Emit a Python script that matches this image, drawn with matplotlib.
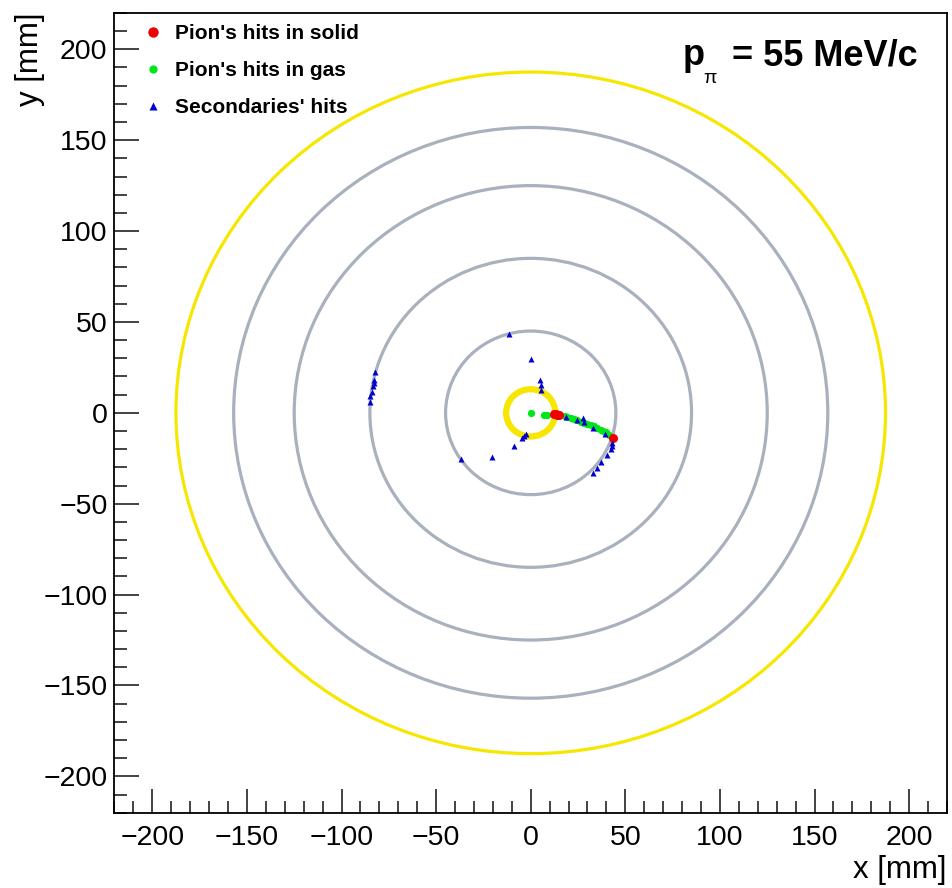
import matplotlib
matplotlib.use("Agg")
import matplotlib.pyplot as plt
from matplotlib.patches import Circle
from matplotlib.ticker import MultipleLocator

plt.rcParams["font.family"] = ["Liberation Sans", "DejaVu Sans"]

# detector layers (radius in mm)
gray_radii = [45, 85, 125, 157]
yellow_radii = [13, 187.5]

# pion hits in solid
solid_x = [12.5, 13.3, 14.1, 14.9, 43.5]
solid_y = [-0.8, -0.9, -1.1, -1.3, -13.6]

# pion hits in gas
gas_x = [0.0, 7.2, 8.4, 18.0, 19.4, 21.2, 22.9, 24.6, 26.4, 28.2, 29.9, 31.6, 33.4, 35.2, 36.9, 38.3, 39.6, 41.3]
gas_y = [0.0, -1.0, -1.1, -2.0, -2.4, -2.9, -3.5, -4.1, -4.8, -5.5, -6.2, -6.9, -7.5, -8.4, -9.4, -10.1, -10.8, -12.1]

# secondaries' hits
sec_x = [-11.4, 0.4, 4.9, 5.2, 5.6, -2.6, -3.5, -4.4, -8.8, -20.7, -36.6,
         18.5, 24.6, 27.8, 28.1, 33.1, 39.2,
         43.1, 43.1, 42.2, 40.1, 36.9, 35.2, 33.1,
         -82.3, -82.7, -83.0, -83.5, -84.0, -84.8, -84.8]
sec_y = [43.5, 29.5, 18.2, 15.5, 12.3, -11.6, -12.7, -13.9, -18.2, -24.4, -25.5,
         -2.4, -4.2, -2.9, -5.3, -8.1, -11.6,
         -16.7, -18.5, -20.0, -23.1, -27.3, -30.4, -33.2,
         22.7, 18.2, 16.3, 14.5, 11.7, 9.0, 6.2]

W, H = 953, 888
fig = plt.figure(figsize=(W / 100, H / 100), dpi=100)
ax = fig.add_axes([0.1201, 0.0848, 0.8736, 0.9006])

for r in gray_radii:
    ax.add_patch(Circle((0, 0), r, fill=False, color="#a9b1bd", lw=2.3, zorder=1))
ax.add_patch(Circle((0, 0), yellow_radii[0], fill=False, color="#f7e700", lw=4.5, zorder=1))
ax.add_patch(Circle((0, 0), yellow_radii[1], fill=False, color="#f7e700", lw=2.3, zorder=1))

ax.plot(gas_x, gas_y, "o", color="#00e61a", ms=5.2, mec="none", zorder=3,
        label="Pion's hits in gas")
ax.plot(solid_x, solid_y, "o", color="#ee0000", ms=6.5, mec="none", zorder=4,
        label="Pion's hits in solid")
ax.plot(sec_x, sec_y, "^", color="#0000cc", ms=4.6, mec="none", zorder=5,
        label="Secondaries' hits")

ax.set_xlim(-220, 220)
ax.set_ylim(-220, 220)
ax.xaxis.set_major_locator(MultipleLocator(50))
ax.xaxis.set_minor_locator(MultipleLocator(10))
ax.yaxis.set_major_locator(MultipleLocator(50))
ax.yaxis.set_minor_locator(MultipleLocator(10))
ax.tick_params(which="both", direction="in", width=1.2, labelsize=20.5, color="#222222")
ax.tick_params(axis="x", which="major", length=17, pad=9)
ax.tick_params(axis="x", which="minor", length=8.5)
ax.tick_params(axis="y", which="major", length=18, pad=5)
ax.tick_params(axis="y", which="minor", length=9)
for s in ax.spines.values():
    s.set_linewidth(1.3)

ax.set_xlabel("x [mm]", fontsize=22.5, loc="right", labelpad=3)
ax.set_ylabel("y [mm]", fontsize=22.5, loc="top", labelpad=-1)

h, l = ax.get_legend_handles_labels()
leg = ax.legend([h[1], h[0], h[2]], [l[1], l[0], l[2]], loc="upper left",
                bbox_to_anchor=(0.0200, 1.0), frameon=False,
                prop={"weight": "bold", "size": 15},
                handlelength=1.0, handletextpad=0.56, labelspacing=0.86,
                borderaxespad=0.0, borderpad=0.55, markerscale=1.15)

# momentum label: p, lowered small pi, then the value
fig.text(683 / W, 1 - 65 / H, "p", ha="left", va="baseline", fontsize=26, fontweight="bold")
fig.text(703 / W, 1 - 83 / H, "\u03c0", ha="left", va="baseline", fontsize=14)
fig.text(918 / W, 1 - 65 / H, "= 55 MeV/c", ha="right", va="baseline",
         fontsize=26, fontweight="bold")

fig.savefig("out.png", dpi=100)
